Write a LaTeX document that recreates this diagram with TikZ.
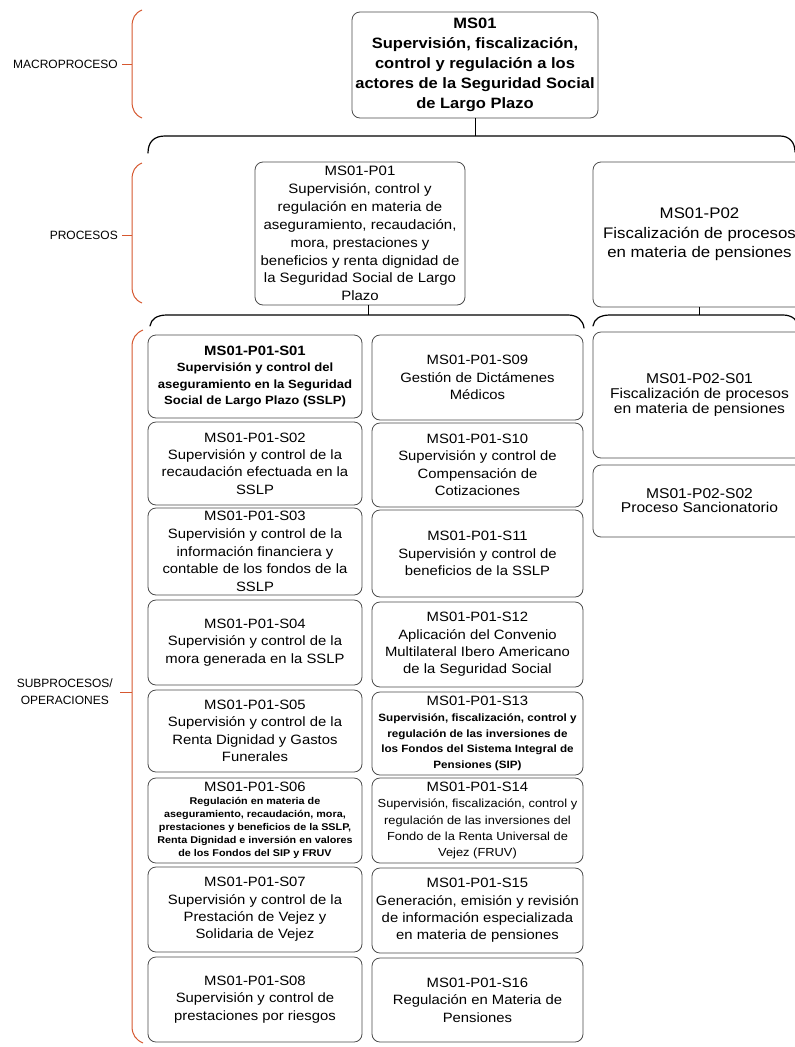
\documentclass[tikz,border=0pt]{standalone}
\usepackage{fontspec}
\setmainfont{Liberation Sans}[FakeStretch=1.1]
\newfontfamily\lblfont{Liberation Sans}
\definecolor{bracketred}{RGB}{214,88,48}
\newcommand{\stdfont}{\fontsize{13.5}{17.4}\selectfont}
\newcommand{\hdr}[1]{{\fontsize{13.5}{13}\selectfont #1}}
\tikzset{
  box/.style={draw=black!70,line width=0.8pt,rounded corners=8pt,fill=white,align=center,inner sep=1pt,font=\stdfont},
  brace/.style={line width=1.2pt,line cap=round},
  bracket/.style={draw=bracketred,line width=1pt},
  lbl/.style={font=\lblfont\fontsize{12}{17}\selectfont,inner sep=0pt,align=center,anchor=east}
}
\begin{document}
\begin{tikzpicture}[x=1pt,y=-1pt]
        \useasboundingbox[fill=white] (0,0) rectangle (795,1047);
        %% Levels
        \node[lbl] (macro) at (118,64) {MACROPROCESO};
        \node[lbl] (proc) at (118,235) {PROCESOS};
        \node[lbl] (subproc) at (113,692) {SUBPROCESOS/\\OPERACIONES};
        \draw[bracket] (142,10) .. controls (135,13) and (132,18) .. (132,27) -- (132,101) .. controls (132,110) and (135,115) .. (142,118);
        \draw[bracket] (142,163) .. controls (135,166) and (132,171) .. (132,180) -- (132,286) .. controls (132,295) and (135,300) .. (142,303);
        \draw[bracket] (143,330) .. controls (136,333) and (132,338) .. (132,347) -- (132,1026) .. controls (132,1035) and (136,1040) .. (143,1043);
        \draw[bracket] ([xshift=4pt]macro.east) -- ++(10,0);
        \draw[bracket] ([xshift=4pt]proc.east) -- ++(10,0);
        \draw[bracket] ([xshift=7pt]subproc.east) -- ++(12,0);
        %% Macroproceso
        \node[box,font=\bfseries\fontsize{15}{20}\selectfont,minimum width=246pt,minimum height=106pt] (MS01) at (475,65)
          {MS01\\Supervisión, fiscalización,\\control y regulación a los\\actores de la Seguridad Social\\de Largo Plazo};
        %% Procesos
        \node[box,font=\fontsize{13.6}{17.9}\selectfont,minimum width=210pt,minimum height=143pt] (P01) at (360,233.5)
          {MS01-P01\\Supervisión, control y\\regulación en materia de\\aseguramiento, recaudación,\\mora, prestaciones y\\beneficios y renta dignidad de\\la Seguridad Social de Largo\\Plazo};
        \node[box,font=\fontsize{15.3}{19.5}\selectfont,minimum width=213pt,minimum height=145pt] (P02) at (699.5,234.5)
          {MS01-P02\\Fiscalización de procesos\\en materia de pensiones};
        %% Braces
        \draw[brace] (148,153) .. controls (148,142) and (154,136) .. (165,136) -- (780,136) .. controls (789,136) and (795,142) .. (795,152);
        \draw[brace] (150,326) .. controls (151,319) and (157,315) .. (167,315) -- (568,315) .. controls (577,315) and (583,320) .. (584,328);
        \draw[brace] (593,326) .. controls (594,319) and (600,315) .. (610,315) -- (783,315) .. controls (792,315) and (798,320) .. (799,328);
        \coordinate (j0) at (475,136);
        \coordinate (j1) at (368,315);
        \coordinate (j2) at (699.5,315);
        \draw[line width=1pt] (MS01.south) -- (j0);
        \draw[line width=1pt] (P01.south -| j1) -- (j1);
        \draw[line width=1pt] (P02.south) -- (j2);
        %% Subprocesos P01, left column
        \node[box,font=\bfseries\fontsize{11.9}{16.2}\selectfont,minimum width=214pt,minimum height=83pt] (S01) at (255,376.5)
          {\hdr{MS01-P01-S01}\\Supervisión y control del\\aseguramiento en la Seguridad\\Social de Largo Plazo (SSLP)};
        \node[box,minimum width=214pt,minimum height=83pt] (S02) at (255,463.5)
          {MS01-P01-S02\\Supervisión y control de la\\recaudación efectuada en la\\SSLP};
        \node[box,font=\fontsize{13.5}{17.8}\selectfont,minimum width=214pt,minimum height=87pt,inner ysep=0pt] (S03) at (255,551.5)
          {MS01-P01-S03\\Supervisión y control de la\\información financiera y\\contable de los fondos de la\\SSLP};
        \node[box,minimum width=214pt,minimum height=85pt] (S04) at (255,642.5)
          {MS01-P01-S04\\Supervisión y control de la\\mora generada en la SSLP};
        \node[box,minimum width=214pt,minimum height=82pt] (S05) at (255,731)
          {MS01-P01-S05\\Supervisión y control de la\\Renta Dignidad y Gastos\\Funerales};
        \node[box,font=\bfseries\fontsize{9.8}{13}\selectfont,minimum width=214pt,minimum height=85pt] (S06) at (255,820.5)
          {\hdr{\mdseries MS01-P01-S06}\\Regulación en materia de\\aseguramiento, recaudación, mora,\\prestaciones y beneficios de la SSLP,\\Renta Dignidad e inversión en valores\\de los Fondos del SIP y FRUV};
        \node[box,minimum width=214pt,minimum height=85pt] (S07) at (255,909.5)
          {MS01-P01-S07\\Supervisión y control de la\\Prestación de Vejez y\\Solidaria de Vejez};
        \node[box,minimum width=214pt,minimum height=85pt] (S08) at (255,999.5)
          {MS01-P01-S08\\Supervisión y control de\\prestaciones por riesgos};
        %% Subprocesos P01, right column
        \node[box,minimum width=211pt,minimum height=85pt] (S09) at (477.5,377.5)
          {MS01-P01-S09\\Gestión de Dictámenes\\Médicos};
        \node[box,minimum width=211pt,minimum height=84pt] (S10) at (477.5,465)
          {MS01-P01-S10\\Supervisión y control de\\Compensación de\\Cotizaciones};
        \node[box,minimum width=211pt,minimum height=87pt] (S11) at (477.5,553.5)
          {MS01-P01-S11\\Supervisión y control de\\beneficios de la SSLP};
        \node[box,minimum width=211pt,minimum height=85pt] (S12) at (477.5,644.5)
          {MS01-P01-S12\\Aplicación del Convenio\\Multilateral Ibero Americano\\de la Seguridad Social};
        \node[box,font=\bfseries\fontsize{10.6}{15.6}\selectfont,minimum width=211pt,minimum height=83pt] (S13) at (477.5,733.5)
          {\hdr{\mdseries MS01-P01-S13}\\Supervisión, fiscalización, control y\\regulación de las inversiones de\\los Fondos del Sistema Integral de\\Pensiones (SIP)};
        \node[box,font=\fontsize{11.7}{16.2}\selectfont,minimum width=211pt,minimum height=85pt] (S14) at (477.5,820.5)
          {\hdr{MS01-P01-S14}\\Supervisión, fiscalización, control y\\regulación de las inversiones del\\Fondo de la Renta Universal de\\Vejez (FRUV)};
        \node[box,minimum width=211pt,minimum height=85pt] (S15) at (477.5,910.5)
          {MS01-P01-S15\\Generación, emisión y revisión\\de información especializada\\en materia de pensiones};
        \node[box,minimum width=211pt,minimum height=84pt] (S16) at (477.5,1000)
          {MS01-P01-S16\\Regulación en Materia de\\Pensiones};
        %% Subprocesos P02
        \node[box,font=\fontsize{14.2}{15}\selectfont,minimum width=213pt,minimum height=126pt] (T01) at (699.5,395)
          {MS01-P02-S01\\Fiscalización de procesos\\en materia de pensiones};
        \node[box,font=\fontsize{14.2}{14}\selectfont,minimum width=213pt,minimum height=72pt] (T02) at (699.5,501)
          {MS01-P02-S02\\Proceso Sancionatorio};
\end{tikzpicture}
\end{document}
